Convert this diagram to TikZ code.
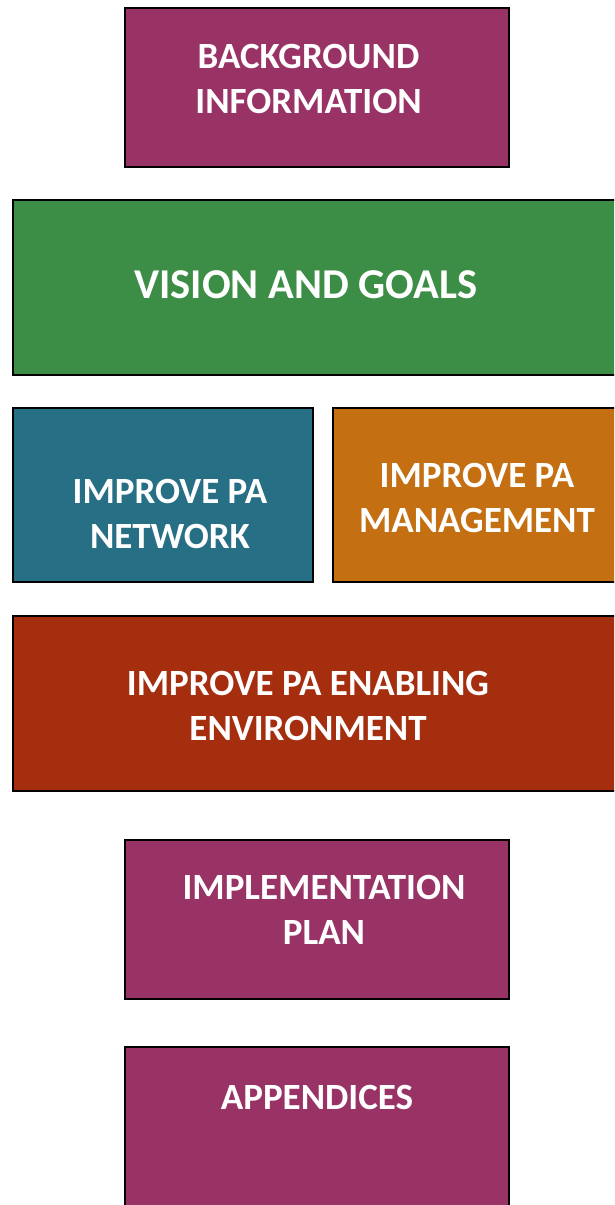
\documentclass[tikz,border=0pt]{standalone}
\usepackage{fontspec}
\setmainfont{Carlito}
\definecolor{cpurple}{RGB}{153,51,102}
\definecolor{cgreen}{RGB}{60,142,70}
\definecolor{cteal}{RGB}{38,111,132}
\definecolor{corange}{RGB}{196,111,18}
\definecolor{crust}{RGB}{165,46,14}
\begin{document}
\begin{tikzpicture}[x=1pt,y=-1pt,
  box/.style={draw=black,line width=2.6pt},
  lbl/.style={text=white,font=\fontsize{37}{44.5}\selectfont\bfseries,align=center,inner sep=0pt},
  big/.style={text=white,font=\fontsize{42.5}{46}\selectfont\bfseries,align=center,inner sep=0pt}]
\useasboundingbox (0,0) rectangle (614,1205);
\begin{scope}
\clip (0,0) rectangle (614,1205);
\filldraw[box,fill=cpurple] (125,8) rectangle (509,167);
\filldraw[box,fill=cgreen] (13,200) rectangle (630,375);
\filldraw[box,fill=cteal] (13,408) rectangle (313,582);
\filldraw[box,fill=corange] (333,408) rectangle (630,582);
\filldraw[box,fill=crust] (13,616) rectangle (630,791);
\filldraw[box,fill=cpurple] (125,840) rectangle (509,999);
\filldraw[box,fill=cpurple] (125,1047) rectangle (509,1230);
\end{scope}
\node[lbl] (t1) at (308.5,79) {BACKGROUND\\INFORMATION};
\node[big] (t2) at (306,285) {VISION AND GOALS};
\node[lbl] (t3) at (170,514) {IMPROVE PA\\NETWORK};
\node[lbl] (t4) at (477,498) {IMPROVE PA\\MANAGEMENT};
\node[lbl] (t5) at (308,706) {IMPROVE PA ENABLING\\ENVIRONMENT};
\node[lbl] (t6) at (324,910) {IMPLEMENTATION\\PLAN};
\node[lbl] (t7) at (317,1097) {APPENDICES};
\end{tikzpicture}
\end{document}
